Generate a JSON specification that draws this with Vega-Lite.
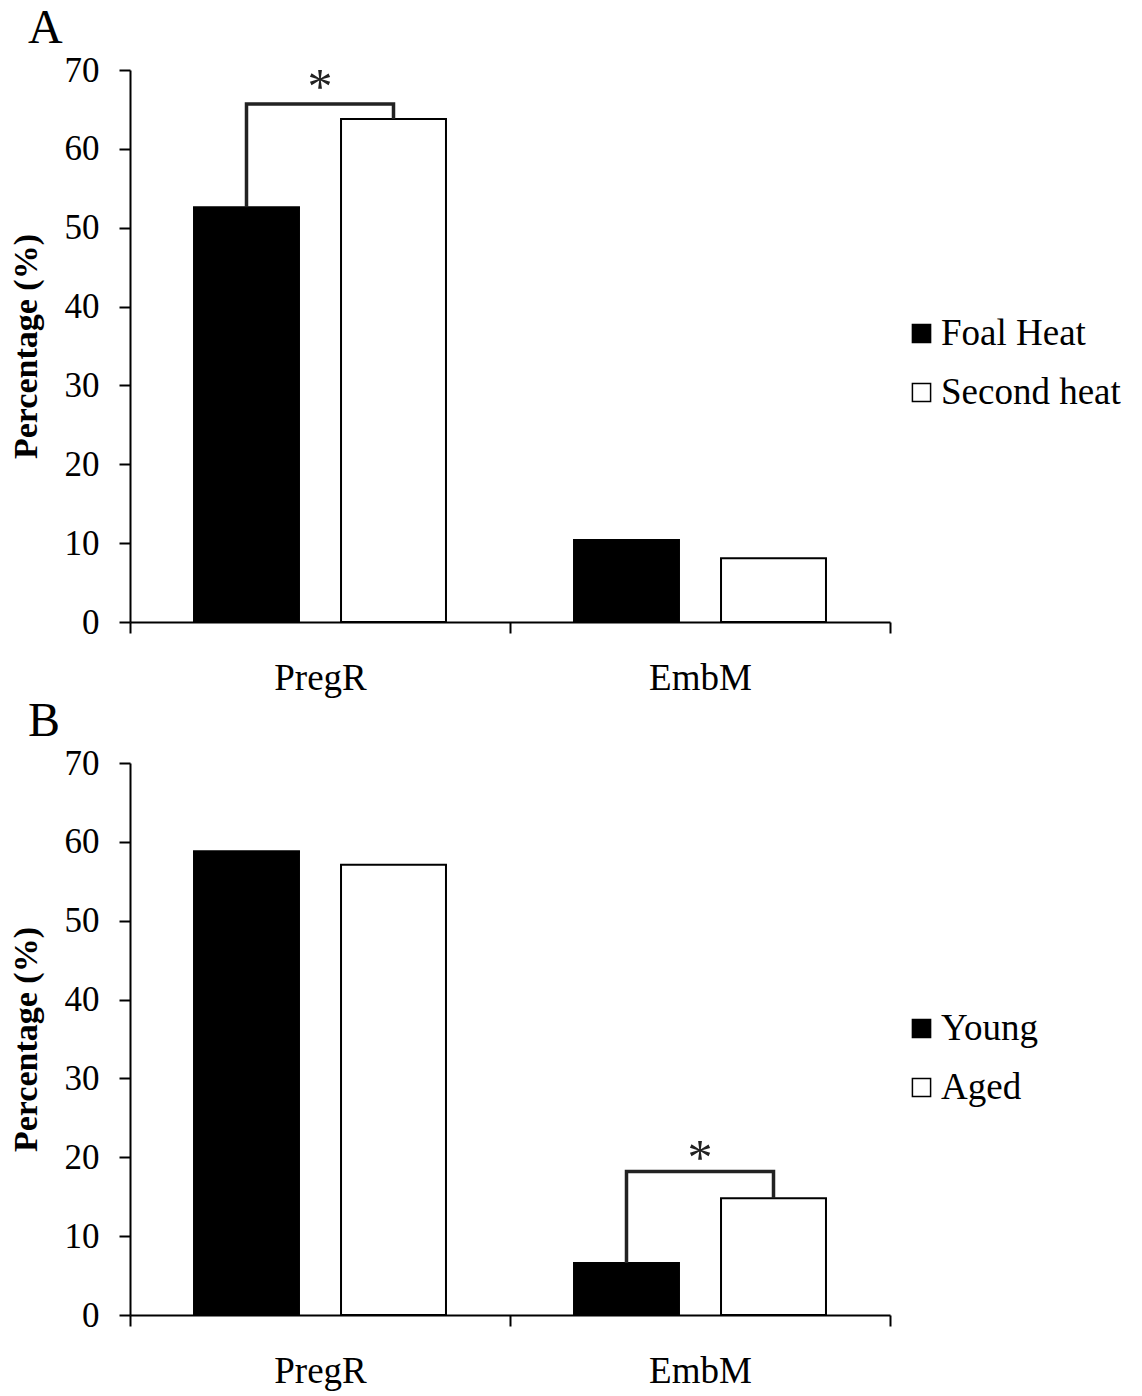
{
  "$schema": "https://vega.github.io/schema/vega-lite/v6.json",
  "background": "white",
  "padding": {"left": 9, "top": 5, "right": 5, "bottom": 5},
  "bounds": "flush",
  "spacing": 141,
  "resolve": {
    "scale": {"fill": "independent", "xOffset": "independent", "x": "independent", "y": "independent"},
    "legend": {"fill": "independent"},
    "axis": {"x": "independent", "y": "independent"}
  },
  "datasets": {
    "barsA": [
      {"cat": "PregR", "grp": "Foal Heat", "pct": 52.6},
      {"cat": "PregR", "grp": "Second heat", "pct": 63.8},
      {"cat": "EmbM", "grp": "Foal Heat", "pct": 10.4},
      {"cat": "EmbM", "grp": "Second heat", "pct": 8.1}
    ],
    "bracketA": [
      {"cat": "PregR", "grp": "Foal Heat", "pct": 52.6, "ord": 1},
      {"cat": "PregR", "grp": "Foal Heat", "pct": 65.7, "ord": 2},
      {"cat": "PregR", "grp": "Second heat", "pct": 65.7, "ord": 3},
      {"cat": "PregR", "grp": "Second heat", "pct": 63.8, "ord": 4}
    ],
    "starA": [{"cat": "PregR", "pct": 68.7, "label": "*"}],
    "barsB": [
      {"cat": "PregR", "grp": "Young", "pct": 58.8},
      {"cat": "PregR", "grp": "Aged", "pct": 57.1},
      {"cat": "EmbM", "grp": "Young", "pct": 6.6},
      {"cat": "EmbM", "grp": "Aged", "pct": 14.8}
    ],
    "bracketB": [
      {"cat": "EmbM", "grp": "Young", "pct": 6.6, "ord": 1},
      {"cat": "EmbM", "grp": "Young", "pct": 18.2, "ord": 2},
      {"cat": "EmbM", "grp": "Aged", "pct": 18.2, "ord": 3},
      {"cat": "EmbM", "grp": "Aged", "pct": 14.8, "ord": 4}
    ],
    "starB": [{"cat": "EmbM", "pct": 20.8, "label": "*"}]
  },
  "vconcat": [
    {
      "width": 760,
      "height": 552,
      "title": {"text": "A", "anchor": "start", "frame": "bounds", "dx": 19, "offset": 0},
      "layer": [
        {
          "data": {"name": "barsA"},
          "mark": {"type": "bar", "stroke": "black", "strokeWidth": 2},
          "encoding": {
            "x": {"field": "cat", "type": "nominal", "sort": ["PregR", "EmbM"], "scale": {"paddingInner": 0, "paddingOuter": 0}, "axis": {"title": null}},
            "xOffset": {"field": "grp", "type": "nominal", "sort": ["Foal Heat", "Second heat"], "scale": {"paddingInner": 0.286, "paddingOuter": 0.4355}},
            "y": {"field": "pct", "type": "quantitative", "scale": {"domain": [0, 70], "nice": false}, "axis": {"title": "Percentage (%)", "values": [0, 10, 20, 30, 40, 50, 60, 70]}},
            "fill": {"field": "grp", "type": "nominal", "sort": ["Foal Heat", "Second heat"], "scale": {"domain": ["Foal Heat", "Second heat"], "range": ["black", "white"]}, "legend": {"title": null, "orient": "none", "legendX": 773, "legendY": 245}}
          }
        },
        {
          "data": {"name": "bracketA"},
          "mark": {"type": "line", "color": "#222222", "strokeWidth": 3.5, "strokeJoin": "miter"},
          "encoding": {
            "x": {"field": "cat", "type": "nominal", "sort": ["PregR", "EmbM"]},
            "xOffset": {"field": "grp", "type": "nominal", "sort": ["Foal Heat", "Second heat"]},
            "y": {"field": "pct", "type": "quantitative"},
            "order": {"field": "ord", "type": "quantitative"}
          }
        },
        {
          "data": {"name": "starA"},
          "mark": {"type": "text", "fontSize": 50, "baseline": "middle", "dy": 8, "color": "#222222"},
          "encoding": {
            "x": {"field": "cat", "type": "nominal", "sort": ["PregR", "EmbM"]},
            "y": {"field": "pct", "type": "quantitative"},
            "text": {"field": "label"}
          }
        }
      ]
    },
    {
      "width": 760,
      "height": 552,
      "title": {"text": "B", "anchor": "start", "frame": "bounds", "dx": 19, "offset": 0},
      "layer": [
        {
          "data": {"name": "barsB"},
          "mark": {"type": "bar", "stroke": "black", "strokeWidth": 2},
          "encoding": {
            "x": {"field": "cat", "type": "nominal", "sort": ["PregR", "EmbM"], "scale": {"paddingInner": 0, "paddingOuter": 0}, "axis": {"title": null}},
            "xOffset": {"field": "grp", "type": "nominal", "sort": ["Young", "Aged"], "scale": {"paddingInner": 0.286, "paddingOuter": 0.4355}},
            "y": {"field": "pct", "type": "quantitative", "scale": {"domain": [0, 70], "nice": false}, "axis": {"title": "Percentage (%)", "values": [0, 10, 20, 30, 40, 50, 60, 70]}},
            "fill": {"field": "grp", "type": "nominal", "sort": ["Young", "Aged"], "scale": {"domain": ["Young", "Aged"], "range": ["black", "white"]}, "legend": {"title": null, "orient": "none", "legendX": 773, "legendY": 247}}
          }
        },
        {
          "data": {"name": "bracketB"},
          "mark": {"type": "line", "color": "#222222", "strokeWidth": 3.5, "strokeJoin": "miter"},
          "encoding": {
            "x": {"field": "cat", "type": "nominal", "sort": ["PregR", "EmbM"]},
            "xOffset": {"field": "grp", "type": "nominal", "sort": ["Young", "Aged"]},
            "y": {"field": "pct", "type": "quantitative"},
            "order": {"field": "ord", "type": "quantitative"}
          }
        },
        {
          "data": {"name": "starB"},
          "mark": {"type": "text", "fontSize": 50, "baseline": "middle", "dy": 8, "color": "#222222"},
          "encoding": {
            "x": {"field": "cat", "type": "nominal", "sort": ["PregR", "EmbM"]},
            "y": {"field": "pct", "type": "quantitative"},
            "text": {"field": "label"}
          }
        }
      ]
    }
  ],
  "config": {
    "font": "Liberation Serif",
    "view": {"stroke": null},
    "title": {"fontSize": 48, "fontWeight": "normal", "color": "black", "font": "Liberation Serif"},
    "axis": {
      "domainColor": "black",
      "domainWidth": 2,
      "tickColor": "black",
      "tickWidth": 2,
      "tickSize": 11,
      "grid": false,
      "labelColor": "black",
      "labelFont": "Liberation Serif",
      "labelFontSize": 35,
      "titleColor": "black",
      "titleFont": "Liberation Serif",
      "titleFontSize": 34,
      "titleFontWeight": "bold"
    },
    "axisX": {"labelAngle": 0, "tickBand": "extent", "labelPadding": 27, "labelFontSize": 37},
    "axisY": {"labelPadding": 20, "titlePadding": 21},
    "legend": {
      "symbolType": "square",
      "symbolSize": 330,
      "symbolStrokeColor": "black",
      "symbolStrokeWidth": 1.5,
      "labelFontSize": 37,
      "labelFont": "Liberation Serif",
      "labelColor": "black",
      "labelOffset": 1,
      "labelLimit": 400,
      "rowPadding": 21
    }
  }
}
